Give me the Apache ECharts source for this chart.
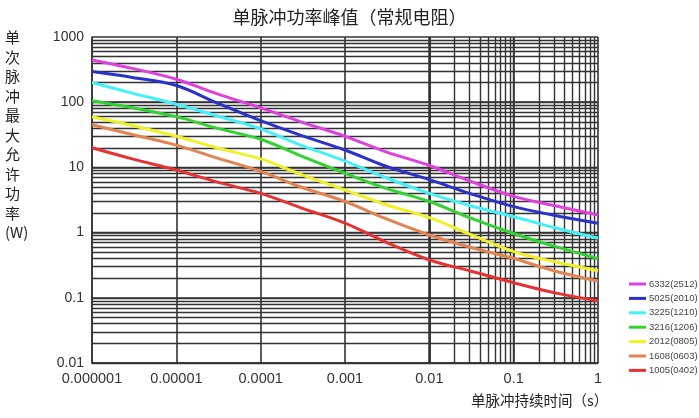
<!DOCTYPE html>
<html>
<head>
<meta charset="utf-8">
<script src="https://cdn.jsdelivr.net/npm/echarts@6/dist/echarts.min.js"></script>
<style>
	html, body { margin: 0; padding: 0; background: #fff; }
	#chart { width: 699px; height: 418px; }
</style>
</head>
<body>
<div id="chart"></div>
<script>
// pulse duration (s)
var times = [1e-6, 3e-6, 1e-5, 3e-5, 1e-4, 3e-4, 1e-3, 3e-3, 1e-2, 3e-2, 1e-1, 3e-1, 1];

var names = ['6332(2512)', '5025(2010)', '3225(1210)', '3216(1206)', '2012(0805)', '1608(0603)', '1005(0402)'];
var colors = ['#e040e0', '#2a32c8', '#46f0f8', '#32d232', '#f0f028', '#e08452', '#e63232'];

// max allowed power (W)
var p6332 = [445, 330, 225, 135, 82, 50, 30, 17.5, 10.7, 6.2, 3.6, 2.6, 1.86];
var p5025 = [295, 240, 180, 98, 52, 31, 18.5, 10.5, 6.5, 4.0, 2.5, 1.85, 1.39];
var p3225 = [200, 138, 93, 62, 39, 22, 12.5, 7.0, 4.0, 2.6, 1.75, 1.2, 0.82];
var p3216 = [105, 82, 60, 40, 27, 15, 8.1, 4.8, 3.0, 1.7, 0.97, 0.62, 0.40];
var p2012 = [60, 44, 30, 20, 13.5, 7.8, 4.5, 2.7, 1.7, 0.95, 0.51, 0.36, 0.26];
var p1608 = [45, 32, 22, 14, 8.7, 5.0, 3.0, 1.65, 0.92, 0.6, 0.40, 0.26, 0.18];
var p1005 = [20, 13.5, 9.1, 6.0, 4.0, 2.4, 1.4, 0.72, 0.38, 0.26, 0.17, 0.12, 0.09];

var powers = [p6332, p5025, p3225, p3216, p2012, p1608, p1005];

// minor log grid lines (2..9 in each decade)
var xGrid = [], yGrid = [];
for (var d = -6; d < 0; d++) {
	for (var k = 1; k <= 9; k++) {
		xGrid.push({ xAxis: k * Math.pow(10, d) });
	}
}
for (var d = -2; d < 3; d++) {
	for (var k = 1; k <= 9; k++) {
		yGrid.push({ yAxis: k * Math.pow(10, d) });
	}
}

var fmt = function(v) {
	return String(+(+v).toPrecision(1));
};

var series = [{
	name: 'grid',
	type: 'line',
	data: [],
	silent: true,
	markLine: {
		silent: true,
		symbol: 'none',
		animation: false,
		label: { show: false },
		lineStyle: { color: '#333', width: 1.4, type: 'solid' },
		data: xGrid.concat(yGrid)
	}
}];

for (var i = 0; i < names.length; i++) {
	var pts = [];
	for (var j = 0; j < times.length; j++) {
		pts.push([times[j], powers[i][j]]);
	}
	series.push({
		name: names[i],
		type: 'line',
		data: pts,
		smooth: 0.35,
		showSymbol: false,
		lineStyle: { color: colors[i], width: 3 },
		itemStyle: { color: colors[i] },
		z: 5
	});
}

var chart = echarts.init(document.getElementById('chart'));
var option = {
	animation: false,
	backgroundColor: '#fff',
	title: {
		text: '单脉冲功率峰值（常规电阻）',
		left: 'center',
		top: 3,
		textStyle: { fontSize: 18, fontWeight: 'normal', color: '#222', fontFamily: 'Noto Sans CJK SC' }
	},
	legend: {
		orient: 'vertical',
		left: 624,
		top: 274,
		itemWidth: 17,
		itemHeight: 3,
		itemGap: 4.4,
		icon: 'rect',
		data: names,
		textStyle: { fontSize: 9.5, color: '#444', padding: [0, 0, 0, -2] }
	},
	grid: {
		left: 92,
		right: 101,
		top: 37,
		bottom: 55
	},
	xAxis: {
		type: 'log',
		min: 1e-6,
		max: 1,
		logBase: 10,
		axisLine: { show: true, lineStyle: { color: '#333', width: 1.5 } },
		axisTick: { show: false },
		axisLabel: { formatter: fmt, fontSize: 14.5, color: '#333', margin: 8, fontFamily: 'Arial' },
		splitLine: { show: true, lineStyle: { color: '#333', width: 1.6 } }
	},
	yAxis: {
		type: 'log',
		min: 0.01,
		max: 1000,
		logBase: 10,
		axisLine: { show: true, lineStyle: { color: '#333', width: 1.5 } },
		axisTick: { show: false },
		axisLabel: { formatter: fmt, fontSize: 14, color: '#333', margin: 8, fontFamily: 'Arial' },
		splitLine: { show: true, lineStyle: { color: '#333', width: 1.6 } }
	},
	graphic: [{
		type: 'text',
		left: 5,
		top: 28,
		style: {
			text: '单\n次\n脉\n冲\n最\n大\n允\n许\n功\n率\n(W)',
			font: '15px "Noto Sans CJK SC"',
			fill: '#222',
			lineHeight: 19.5,
			align: 'center'
		}
	}, {
		type: 'text',
		left: 471,
		top: 393,
		style: {
			text: '单脉冲持续时间（s）',
			font: '14.5px "Noto Sans CJK SC"',
			fill: '#222'
		}
	}],
	series: series
};
chart.setOption(option);
window.onresize = chart.resize;
</script>
</body>
</html>
